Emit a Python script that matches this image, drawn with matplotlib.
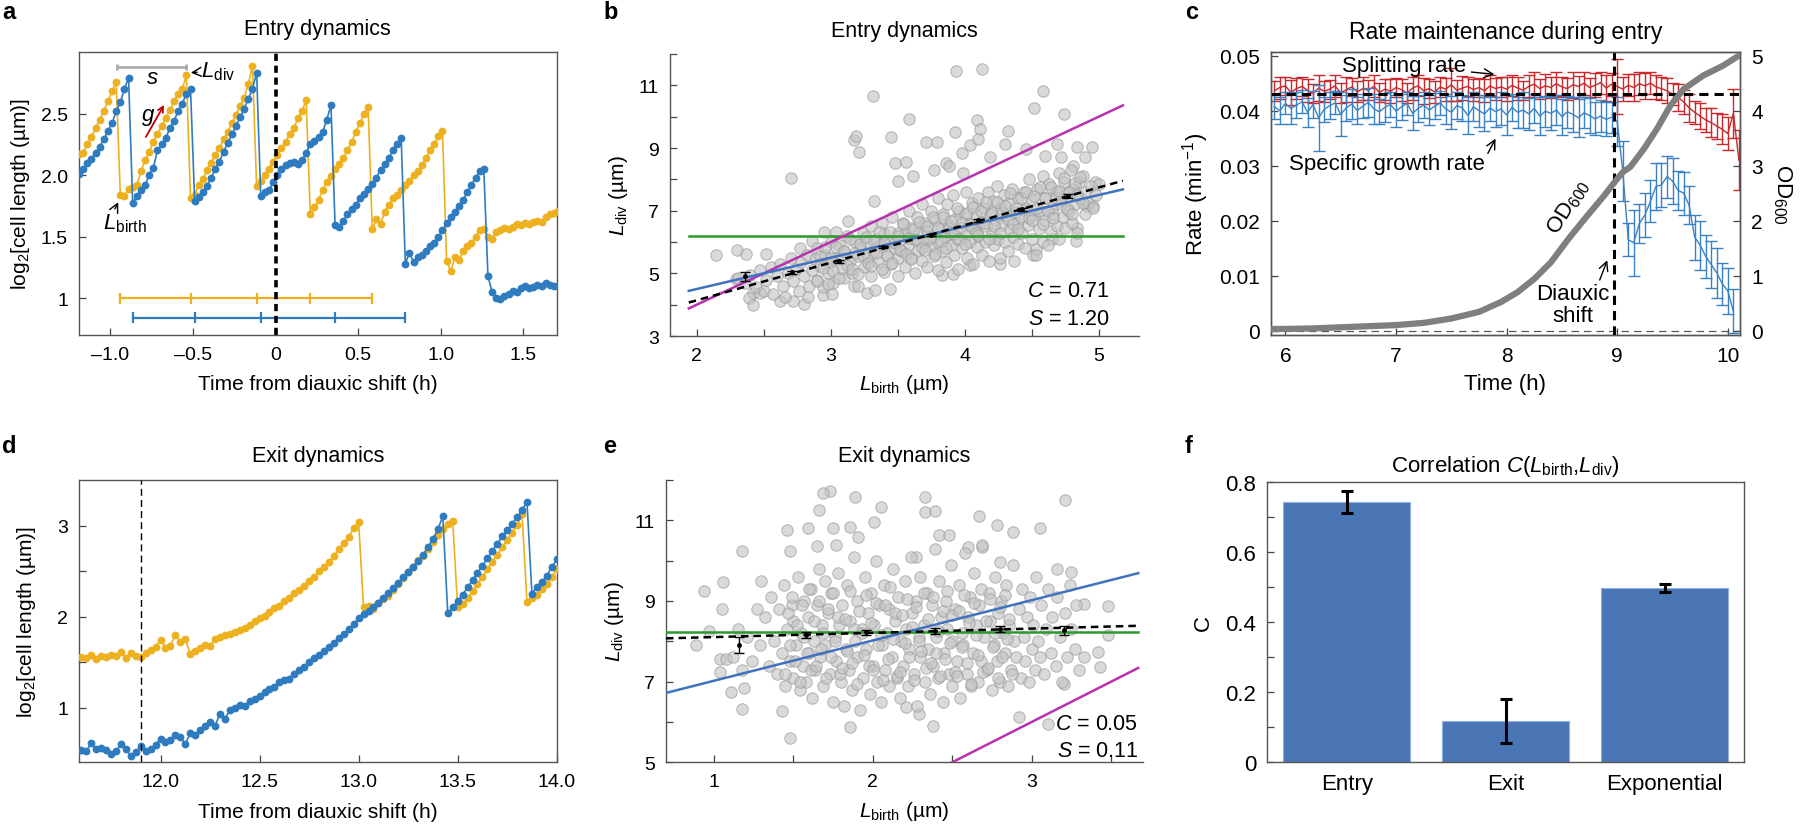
import numpy as np
import matplotlib
matplotlib.use("Agg")
import matplotlib.pyplot as plt

plt.rcParams["font.family"] = ["Liberation Sans", "DejaVu Sans"]
plt.rcParams["mathtext.fontset"] = "custom"
plt.rcParams["mathtext.rm"] = "Liberation Sans"
plt.rcParams["mathtext.it"] = "Liberation Sans:italic"
plt.rcParams["mathtext.bf"] = "Liberation Sans:bold"

NARROW = ["Liberation Sans Narrow", "Liberation Sans", "DejaVu Sans"]
W, H = 1800, 837

YELLOW = "#edb120"
BLUE = "#2e7bc0"
RED = "#c9282d"
CBLUE = "#3a82c6"
MAGENTA = "#b832b0"
GREEN = "#2a9a2a"
LBLUE = "#3f73c0"
BAR = "#4a76b6"

# ---- panel a: entry traces (log2 length), sampled every 0.025 h from -1.19 h
entry_t0, entry_dt = -1.19, 0.025
entry_yellow = [
    2.17, 2.18, 2.25, 2.31, 2.38, 2.45, 2.52, 2.60, 2.68, 2.76,
    1.84, 1.83, 1.89, 1.90, 1.92, 2.03, 2.12, 2.19, 2.27, 2.33,
    2.40, 2.46, 2.53, 2.60, 2.66, 2.70, 2.81, 1.81, 1.84, 1.92,
    1.97, 2.04, 2.10, 2.16, 2.22, 2.29, 2.35, 2.42, 2.49, 2.56,
    2.63, 2.74, 2.89, 1.91, 1.95, 2.00, 2.05, 2.11, 2.16, 2.22,
    2.27, 2.33, 2.38, 2.46, 2.52, 2.61, 1.68, 1.74, 1.80, 1.88,
    1.94, 1.99, 2.05, 2.09, 2.14, 2.20, 2.27, 2.35, 2.42, 2.50,
    2.55, 1.56, 1.64, 1.60, 1.70, 1.76, 1.81, 1.84, 1.88, 1.92,
    1.95, 2.00, 2.03, 2.08, 2.14, 2.20, 2.25, 2.32, 2.36, 1.30,
    1.22, 1.33, 1.31, 1.38, 1.42, 1.45, 1.50, 1.55, 1.56, 1.50,
    1.48, 1.54, 1.55, 1.57, 1.56, 1.58, 1.60, 1.59, 1.61, 1.60,
    1.62, 1.63, 1.62, 1.66, 1.68, 1.69, 1.71]
entry_blue = [
    2.01, 2.05, 2.10, 2.13, 2.18, 2.23, 2.29, 2.36, 2.42, 2.52,
    2.59, 2.70, 2.79, 1.77, 1.83, 1.88, 1.92, 2.00, 2.06, 2.20,
    2.25, 2.30, 2.38, 2.44, 2.52, 2.58, 2.66, 2.70, 1.79, 1.82,
    1.86, 1.91, 1.98, 2.05, 2.11, 2.19, 2.26, 2.33, 2.40, 2.47,
    2.54, 2.62, 2.70, 2.83, 1.83, 1.86, 1.88, 1.94, 2.00, 2.05,
    2.08, 2.10, 2.11, 2.09, 2.12, 2.18, 2.25, 2.28, 2.31, 2.35,
    2.45, 2.57, 1.59, 1.58, 1.63, 1.68, 1.72, 1.76, 1.81, 1.85,
    1.89, 1.93, 1.98, 2.04, 2.09, 2.14, 2.20, 2.25, 2.30, 1.28,
    1.37, 1.29, 1.33, 1.35, 1.38, 1.42, 1.45, 1.50, 1.55, 1.61,
    1.66, 1.70, 1.75, 1.80, 1.86, 1.92, 1.98, 2.03, 2.05, 1.18,
    1.05, 1.00, 0.99, 1.02, 1.03, 1.06, 1.05, 1.08, 1.10, 1.08,
    1.09, 1.11, 1.10, 1.12, 1.11, 1.10, 1.10]

# ---- panel d: exit traces, sampled every 0.025 h from 11.6 h
exit_t0, exit_dt = 11.6, 0.025
exit_yellow = [
    1.56, 1.55, 1.58, 1.53, 1.57, 1.56, 1.58, 1.57, 1.61, 1.54,
    1.60, 1.57, 1.56, 1.60, 1.63, 1.67, 1.74, 1.66, 1.68, 1.80,
    1.72, 1.75, 1.59, 1.62, 1.66, 1.69, 1.68, 1.75, 1.78, 1.80,
    1.81, 1.83, 1.85, 1.87, 1.91, 1.95, 1.98, 2.01, 2.05, 2.09,
    2.12, 2.17, 2.20, 2.26, 2.29, 2.34, 2.39, 2.44, 2.50, 2.55,
    2.60, 2.67, 2.74, 2.81, 2.87, 2.97, 3.04, 2.10, 2.12, 2.08,
    2.15, 2.19, 2.23, 2.29, 2.36, 2.42, 2.49, 2.55, 2.62, 2.67,
    2.74, 2.82, 2.90, 2.96, 3.02, 3.05, 2.10, 2.14, 2.20, 2.28,
    2.36, 2.44, 2.52, 2.60, 2.68, 2.76, 2.84, 2.92, 3.01, 3.13,
    2.16, 2.20, 2.24, 2.30, 2.36, 2.44, 2.52]
exit_blue = [
    0.54, 0.52, 0.61, 0.55, 0.56, 0.53, 0.49, 0.52, 0.60, 0.55,
    0.47, 0.51, 0.58, 0.52, 0.55, 0.59, 0.66, 0.62, 0.64, 0.70,
    0.68, 0.60, 0.72, 0.70, 0.75, 0.80, 0.84, 0.80, 0.93, 0.88,
    0.97, 1.00, 1.03, 1.02, 1.07, 1.10, 1.13, 1.17, 1.21, 1.23,
    1.28, 1.30, 1.32, 1.37, 1.41, 1.45, 1.50, 1.54, 1.58, 1.62,
    1.67, 1.71, 1.76, 1.81, 1.86, 1.92, 1.98, 2.03, 2.06, 2.11,
    2.15, 2.20, 2.26, 2.31, 2.37, 2.43, 2.49, 2.55, 2.61, 2.68,
    2.76, 2.85, 2.96, 3.10, 2.04, 2.10, 2.17, 2.24, 2.32, 2.40,
    2.48, 2.56, 2.64, 2.72, 2.80, 2.88, 2.95, 3.02, 3.09, 3.17,
    3.26, 2.25, 2.33, 2.38, 2.45, 2.54, 2.63]

# ---- panel b: entry L_birth vs L_div
entry_lbirth = [
    3.935, 4.127, 3.313, 4.582, 4.52, 4.744, 3.58, 4.09, 4.115, 3.925, 4.32, 3.45, 3.17, 3.19, 3.21,
    3.71, 3.79, 4.04, 4.10, 4.30, 4.46, 4.69, 4.84, 4.95, 3.98, 4.19, 3.48, 3.56, 3.86, 3.88, 3.77,
    3.61, 3.50, 3.99, 4.60, 4.72, 4.90, 4.81, 2.70, 2.14, 2.30, 2.37, 3.32, 3.13, 2.95, 3.04, 2.86,
    2.77, 2.52, 2.42, 2.39, 2.42, 2.62, 2.72, 2.80, 2.83, 2.94, 3.01, 2.29, 2.47, 3.27, 3.33, 3.44,
    3.17, 3.83, 3.91, 4.04, 4.26, 4.51, 4.53, 4.65, 4.83, 4.84, 4.91, 4.96, 4.97,
    2.31, 2.36, 2.40, 2.44, 2.47, 2.50, 2.52, 2.55, 2.57, 2.60,
    2.62, 2.64, 2.66, 2.68, 2.70, 2.72, 2.74, 2.76, 2.78, 2.80, 2.82, 2.84, 2.86, 2.88, 2.90, 2.90,
    2.92, 2.94, 2.96, 2.98, 3.00, 3.00, 3.02, 3.04, 3.06, 3.08, 3.10, 3.10, 3.12, 3.14, 3.16, 3.18, 3.20, 3.20,
    3.22, 3.24, 3.25, 3.27, 3.28, 3.30, 3.30, 3.32, 3.34, 3.35, 3.37, 3.38, 3.40, 3.40, 3.42, 3.44, 3.45,
    3.46, 3.48, 3.50, 3.50, 3.50,
    3.52, 3.53, 3.54, 3.55, 3.56, 3.58, 3.58, 3.60, 3.60, 3.62, 3.63, 3.64, 3.65, 3.66, 3.68, 3.68,
    3.70, 3.70, 3.72, 3.72, 3.74, 3.75, 3.76, 3.77, 3.78, 3.80, 3.80, 3.80,
    3.82, 3.83, 3.84, 3.85, 3.86, 3.87, 3.88, 3.90, 3.90, 3.91, 3.92, 3.93, 3.94, 3.95, 3.96, 3.97,
    3.98, 4.00, 4.00, 4.01, 4.02, 4.03, 4.04, 4.05, 4.06, 4.07, 4.08, 4.09, 4.10, 4.10,
    4.12, 4.13, 4.14, 4.15, 4.16, 4.17, 4.18, 4.19, 4.20, 4.21, 4.22, 4.23, 4.24, 4.25, 4.26, 4.27,
    4.28, 4.29, 4.30, 4.31, 4.32, 4.33, 4.34, 4.35, 4.36, 4.37, 4.38, 4.39, 4.40, 4.40,
    4.42, 4.43, 4.44, 4.45, 4.46, 4.47, 4.48, 4.50, 4.50, 4.52, 4.53, 4.54, 4.55, 4.56, 4.58, 4.58,
    4.60, 4.60, 4.62, 4.63, 4.64, 4.65, 4.66, 4.68, 4.69, 4.70, 4.70,
    4.72, 4.73, 4.74, 4.75, 4.76, 4.78, 4.79, 4.80, 4.81, 4.82, 4.84, 4.85, 4.86, 4.88, 4.90, 4.90,
    4.92, 4.94, 4.96, 4.98, 5.00]
entry_ldiv = [
    11.45, 11.53, 10.66, 10.81, 10.27, 10.08, 9.91, 9.90, 9.60, 9.52, 9.55, 9.34, 9.26, 9.39, 8.86,
    9.18, 9.18, 9.10, 9.30, 9.12, 8.96, 9.12, 9.02, 9.04, 8.84, 8.70, 8.52, 8.54, 8.52, 8.43, 8.30,
    8.11, 7.95, 8.20, 8.75, 8.70, 8.70, 8.43, 8.04, 5.59, 5.75, 5.63, 7.32, 6.66, 6.33, 6.33, 6.02,
    5.82, 5.61, 4.36, 4.20, 3.99, 4.12, 4.12, 4.03, 4.25, 4.32, 4.33, 4.81, 4.36, 4.38, 4.48, 4.51,
    4.58, 4.94, 4.97, 5.27, 5.31, 5.58, 5.79, 6.11, 6.04, 6.46, 7.15, 7.15, 7.90,
    4.85, 4.70, 4.95, 4.55, 5.10, 4.45, 4.80, 5.20, 4.35, 4.90,
    5.30, 4.60, 4.25, 5.00, 5.50, 4.75, 5.15, 4.45, 5.35, 4.90, 5.60, 4.60, 5.10, 5.45, 4.80, 5.80,
    5.25, 4.55, 5.60, 5.00, 5.35, 6.00, 4.70, 5.50, 5.90, 5.15, 4.85, 5.70, 6.20, 5.40, 5.00, 6.00, 5.55, 4.60,
    5.80, 6.30, 5.20, 6.00, 5.50, 4.90, 6.50, 5.70, 6.10, 5.35, 5.90, 6.60, 5.05, 6.25, 5.60, 6.00, 5.30,
    6.80, 5.80, 6.30, 5.50, 4.90,
    6.05, 5.70, 6.60, 5.20, 6.30, 5.90, 7.00, 5.50, 6.45, 6.10, 5.00, 6.80, 5.75, 6.30, 5.40, 7.20,
    6.00, 6.60, 5.20, 6.35, 5.85, 7.00, 6.15, 5.55, 6.70, 6.00, 5.10, 7.40,
    6.40, 5.70, 6.90, 6.15, 5.35, 7.20, 6.55, 5.90, 6.30, 7.50, 5.60, 6.75, 6.10, 5.15, 7.00, 6.45,
    5.80, 6.90, 6.20, 7.60, 5.50, 6.60, 6.00, 7.25, 5.30, 6.40, 6.85, 5.85, 7.40, 6.20,
    6.65, 5.60, 7.10, 6.00, 6.50, 7.60, 5.40, 6.90, 6.30, 7.30, 5.90, 6.70, 7.80, 6.10, 5.50, 7.05,
    6.55, 7.50, 6.00, 6.85, 5.70, 7.25, 6.40, 7.70, 6.15, 5.40, 6.95, 6.60, 7.40, 5.95,
    6.80, 6.30, 7.60, 5.80, 7.10, 6.55, 8.00, 6.10, 7.35, 6.85, 5.60, 7.70, 6.40, 7.00, 6.00, 8.10,
    7.40, 6.70, 5.90, 7.85, 6.35, 7.10, 6.90, 7.60, 6.50, 8.20, 6.10,
    7.30, 6.80, 7.90, 6.45, 7.55, 7.00, 8.30, 6.60, 7.70, 7.20, 6.30, 7.90, 7.40, 8.10, 6.90, 7.60,
    7.25, 7.80, 7.10, 7.50, 7.85]
# extra points in the dense band of panel b
entry_core_lbirth = [
    2.90, 2.92, 2.94, 2.96, 2.98, 3.00, 3.02, 3.04, 3.06, 3.08,
    3.10, 3.12, 3.14, 3.16, 3.18, 3.20, 3.22, 3.24, 3.26, 3.28,
    3.30, 3.32, 3.34, 3.36, 3.38, 3.40, 3.42, 3.44, 3.46, 3.48,
    3.50, 3.52, 3.54, 3.56, 3.58, 3.60, 3.62, 3.64, 3.66, 3.68,
    3.70, 3.72, 3.74, 3.76, 3.78, 3.80, 3.82, 3.84, 3.86, 3.88,
    3.90, 3.92, 3.94, 3.96, 3.98, 4.00, 4.02, 4.04, 4.06, 4.08,
    4.10, 4.12, 4.14, 4.16, 4.18, 4.20, 4.22, 4.24, 4.26, 4.28,
    4.30, 4.32, 4.34, 4.36, 4.38, 4.40, 4.42, 4.44, 4.46, 4.48,
    4.50, 4.52, 4.54, 4.56, 4.58, 4.60, 4.62, 4.64, 4.66, 4.68,
    4.70, 4.72, 4.74, 4.76, 4.78, 4.80, 4.82, 4.84, 4.86, 4.88]
entry_core_ldiv = [
    4.77, 5.54, 5.17, 5.84, 4.67, 5.49, 5.06, 5.84, 4.86, 5.49,
    5.71, 5.28, 6.11, 5.13, 5.66, 4.98, 5.95, 5.58, 6.15, 5.33,
    5.25, 6.02, 5.65, 6.32, 5.15, 5.97, 5.54, 6.32, 5.34, 5.97,
    6.19, 5.76, 6.59, 5.61, 6.14, 5.46, 6.43, 6.06, 6.63, 5.81,
    5.73, 6.50, 6.13, 6.80, 5.63, 6.45, 6.02, 6.80, 5.82, 6.45,
    6.67, 6.24, 7.07, 6.09, 6.62, 5.94, 6.91, 6.54, 7.11, 6.29,
    6.21, 6.98, 6.61, 7.28, 6.11, 6.93, 6.50, 7.28, 6.30, 6.93,
    7.15, 6.72, 7.55, 6.57, 7.10, 6.42, 7.39, 7.02, 7.59, 6.77,
    6.69, 7.46, 7.09, 7.76, 6.59, 7.41, 6.98, 7.76, 6.78, 7.41,
    7.63, 7.20, 8.03, 7.05, 7.58, 6.90, 7.87, 7.50, 8.07, 7.25]
entry_bin_x = [2.36, 2.71, 3.06, 3.39, 3.75, 4.10, 4.43, 4.77]
entry_bin_y = [4.90, 5.03, 5.38, 5.84, 6.22, 6.70, 7.05, 7.47]
entry_bin_err = [0.15, 0.05, 0.05, 0.04, 0.04, 0.05, 0.05, 0.07]

# ---- panel e: exit L_birth vs L_div
exit_lbirth = [
    1.73, 1.69, 1.89, 2.33, 3.21, 2.05, 2.33, 2.39, 1.66, 2.67, 1.46, 1.59, 1.75, 1.86, 2.01, 2.78,
    3.05, 2.88, 1.18, 1.48, 1.65, 1.77, 1.91, 2.42, 2.48, 2.60, 2.69, 2.27, 2.80, 0.94, 1.06, 1.30,
    1.05, 0.97, 0.89, 1.04, 1.08, 1.04, 1.11, 1.19, 1.18, 1.43, 1.48, 1.86, 2.21, 2.29, 2.38, 2.92,
    3.10, 3.20, 3.43, 3.42, 3.33, 3.48, 3.48, 3.33, 3.25, 3.16,
    1.12, 1.15, 1.18, 1.21, 1.24, 1.27, 1.29,
    1.32, 1.35, 1.36, 1.38, 1.40, 1.41, 1.43, 1.44, 1.45, 1.46, 1.48, 1.49, 1.50, 1.50,
    1.52, 1.53, 1.54, 1.55, 1.56, 1.57, 1.58, 1.59, 1.60, 1.61, 1.62, 1.63, 1.64, 1.65, 1.66, 1.67,
    1.68, 1.69, 1.70, 1.70,
    1.72, 1.73, 1.74, 1.75, 1.76, 1.77, 1.78, 1.79, 1.80, 1.81, 1.82, 1.83, 1.84, 1.85, 1.86, 1.87,
    1.88, 1.89, 1.90, 1.90,
    1.92, 1.93, 1.94, 1.95, 1.96, 1.97, 1.98, 1.99, 2.00, 2.01, 2.02, 2.03, 2.04, 2.05, 2.06, 2.07,
    2.08, 2.09, 2.10, 2.10,
    2.12, 2.13, 2.14, 2.15, 2.16, 2.17, 2.18, 2.19, 2.20, 2.21, 2.22, 2.23, 2.24, 2.25, 2.26, 2.27,
    2.28, 2.29, 2.30, 2.30,
    2.32, 2.33, 2.34, 2.35, 2.36, 2.37, 2.38, 2.39, 2.40, 2.41, 2.42, 2.43, 2.44, 2.45, 2.46, 2.47,
    2.48, 2.49, 2.50, 2.50,
    2.52, 2.53, 2.54, 2.55, 2.56, 2.57, 2.58, 2.59, 2.60, 2.61, 2.62, 2.63, 2.64, 2.65, 2.66, 2.67,
    2.68, 2.69, 2.70,
    2.72, 2.73, 2.74, 2.75, 2.76, 2.77, 2.78, 2.79, 2.80, 2.81, 2.82, 2.83, 2.84, 2.85, 2.86, 2.87,
    2.88, 2.89, 2.90,
    2.92, 2.93, 2.94, 2.95, 2.96, 2.97, 2.98, 2.99, 3.00, 3.01, 3.02, 3.03, 3.04, 3.05, 3.06, 3.08,
    3.09, 3.10,
    3.12, 3.13, 3.15, 3.16, 3.18, 3.19, 3.21, 3.22, 3.24, 3.25, 3.27, 3.28, 3.30]
exit_ldiv = [
    11.72, 11.67, 11.58, 11.58, 11.50, 11.32, 11.21, 11.24, 11.25, 11.10, 10.77, 10.82, 10.82, 10.84,
    10.96, 10.88, 10.82, 10.70, 10.23, 10.24, 10.36, 10.40, 10.59, 10.63, 10.63, 10.34, 10.34, 10.09,
    9.97, 9.26, 9.47, 9.50, 8.81, 8.25, 7.92, 7.57, 7.57, 7.24, 6.74, 6.84, 6.33, 6.27, 5.60, 5.87,
    6.37, 6.20, 5.91, 6.13, 5.95, 6.95, 7.36, 7.73, 7.61, 8.15, 8.87, 8.93, 9.72, 9.80,
    7.60, 8.30, 7.30, 8.10, 7.50, 8.80, 7.90,
    8.60, 7.40, 9.10, 8.00, 7.20, 8.80, 7.70, 9.40, 6.90, 8.30, 7.50, 8.90, 7.10, 8.50,
    7.90, 9.60, 6.80, 8.20, 7.40, 9.00, 7.00, 8.60, 7.70, 9.30, 6.60, 8.00, 7.30, 8.90, 9.80, 7.60,
    8.40, 6.90, 9.50, 7.90,
    8.70, 7.20, 9.20, 6.50, 8.10, 7.50, 9.70, 8.40, 7.00, 8.90, 6.40, 7.80, 9.40, 7.30, 8.50, 6.80,
    10.10, 8.00, 7.60, 9.00,
    6.30, 8.30, 7.10, 9.60, 7.80, 8.70, 6.70, 9.20, 7.40, 8.40, 10.00, 7.00, 8.90, 6.50, 7.90, 9.40,
    7.30, 8.20, 6.90, 8.80,
    7.60, 9.80, 8.50, 7.10, 9.10, 6.60, 8.00, 7.40, 9.50, 8.30, 6.90, 7.80, 10.10, 8.70, 7.20, 9.00,
    6.40, 8.10, 7.60, 9.60,
    8.40, 7.00, 9.20, 7.80, 6.70, 8.90, 7.40, 10.30, 8.10, 7.10, 9.50, 8.60, 6.50, 7.70, 9.00, 8.30,
    7.20, 9.90, 8.00, 6.90,
    8.80, 7.50, 9.40, 6.60, 8.20, 7.90, 10.20, 7.20, 8.60, 9.10, 6.90, 7.70, 9.70, 8.40, 7.00, 8.90,
    7.50, 10.40, 8.10,
    7.30, 9.20, 8.50, 6.80, 7.90, 9.60, 7.50, 8.70, 7.00, 9.00, 8.20, 7.70, 9.40, 6.90, 8.40, 7.30,
    9.90, 8.00, 7.60,
    8.80, 7.10, 9.30, 8.10, 7.50, 8.60, 7.00, 9.10, 7.80, 8.40, 7.30, 9.60, 8.00, 7.60, 8.90, 7.20,
    8.30, 9.30,
    7.70, 8.60, 7.40, 9.10, 8.10, 7.00, 8.70, 7.60, 9.40, 8.30, 7.80, 8.90, 7.30]
# extra points in the dense centre of panel e
exit_core_lbirth = [
    1.450, 1.465, 1.480, 1.495, 1.510, 1.525, 1.540, 1.555, 1.570, 1.585, 1.600, 1.615,
    1.630, 1.645, 1.660, 1.675, 1.690, 1.705, 1.720, 1.735, 1.750, 1.765, 1.780, 1.795,
    1.810, 1.825, 1.840, 1.855, 1.870, 1.885, 1.900, 1.915, 1.930, 1.945, 1.960, 1.975,
    1.990, 2.005, 2.020, 2.035, 2.050, 2.065, 2.080, 2.095, 2.110, 2.125, 2.140, 2.155,
    2.170, 2.185, 2.200, 2.215, 2.230, 2.245, 2.260, 2.275, 2.290, 2.305, 2.320, 2.335,
    2.350, 2.365, 2.380, 2.395, 2.410, 2.425, 2.440, 2.455, 2.470, 2.485, 2.500, 2.515,
    2.530, 2.545, 2.560, 2.575, 2.590, 2.605, 2.620, 2.635, 2.650, 2.665, 2.680, 2.695,
    2.710, 2.725, 2.740, 2.755, 2.770, 2.785, 2.800, 2.815, 2.830, 2.845, 2.860, 2.875]
exit_core_ldiv = [
    7.20, 8.70, 7.90, 9.10, 7.50, 8.40, 7.00, 8.90, 8.10, 7.70, 9.30, 7.30,
    8.50, 7.40, 9.00, 7.80, 8.20, 7.10, 8.80, 7.60, 9.20, 8.00, 8.60, 7.20,
    7.35, 8.55, 7.75, 9.25, 7.45, 8.30, 6.95, 8.75, 8.20, 7.65, 9.15, 7.40,
    8.45, 7.30, 8.95, 7.90, 8.15, 7.05, 8.90, 7.55, 9.35, 8.05, 8.70, 7.15,
    7.25, 8.65, 7.95, 9.05, 7.60, 8.35, 7.05, 8.85, 8.00, 7.75, 9.20, 7.35,
    8.55, 7.45, 9.10, 7.70, 8.25, 7.15, 8.75, 7.55, 9.25, 7.95, 8.65, 7.25,
    7.15, 8.75, 7.85, 9.15, 7.45, 8.45, 6.95, 8.95, 8.15, 7.65, 9.30, 7.25,
    8.50, 7.35, 9.05, 7.85, 8.20, 7.10, 8.85, 7.60, 9.15, 8.05, 8.55, 7.20]
exit_bin_x = [1.16, 1.58, 1.96, 2.39, 2.80, 3.20]
exit_bin_y = [7.90, 8.15, 8.22, 8.25, 8.30, 8.27]
exit_bin_err = [0.20, 0.07, 0.06, 0.07, 0.08, 0.12]

# model lines: (slope, intercept) for L_div = slope * L_birth + intercept
entry_lines = {"sizer": (0.0, 6.2), "timer": (2.0, 0.0), "adder": (1.0, 2.5), "fit": (1.2, 1.74)}
exit_lines = {"sizer": (0.0, 8.22), "timer": (2.0, 0.0), "adder": (1.0, 6.02), "fit": (0.105, 8.0)}

# ---- panel c: rates during entry, every 0.05 h from 5.9 h
rate_t0, rate_dt = 5.9, 0.05
split_rate = [
    0.0436, 0.0442, 0.0445, 0.0433, 0.0440, 0.0444, 0.0437, 0.0431, 0.0441, 0.0435,
    0.0439, 0.0445, 0.0432, 0.0438, 0.0443, 0.0434, 0.0440, 0.0437, 0.0444, 0.0433,
    0.0439, 0.0435, 0.0442, 0.0438, 0.0432, 0.0441, 0.0445, 0.0436, 0.0440, 0.0434,
    0.0443, 0.0439, 0.0447, 0.0437, 0.0441, 0.0444, 0.0438, 0.0442, 0.0436, 0.0445,
    0.0440, 0.0443, 0.0439, 0.0446, 0.0441, 0.0437, 0.0444, 0.0448, 0.0440, 0.0445,
    0.0442, 0.0449, 0.0443, 0.0440, 0.0447, 0.0444, 0.0450, 0.0442, 0.0446, 0.0451,
    0.0441, 0.0448, 0.0444, 0.0439, 0.0446, 0.0442, 0.0449, 0.0445, 0.0450, 0.0443,
    0.0440, 0.0436, 0.0430, 0.0424, 0.0416, 0.0405, 0.0397, 0.0390, 0.0383, 0.0378,
    0.0372, 0.0366, 0.0358, 0.0395, 0.0310]
split_err = [
    0.0018, 0.0020, 0.0016, 0.0022, 0.0019, 0.0017, 0.0021, 0.0018, 0.0024, 0.0019,
    0.0017, 0.0020, 0.0018, 0.0023, 0.0016, 0.0019, 0.0021, 0.0018, 0.0020, 0.0017,
    0.0019, 0.0022, 0.0017, 0.0020, 0.0018, 0.0021, 0.0019, 0.0024, 0.0017, 0.0020,
    0.0018, 0.0021, 0.0030, 0.0019, 0.0022, 0.0018, 0.0020, 0.0017, 0.0021, 0.0019,
    0.0020, 0.0018, 0.0022, 0.0019, 0.0021, 0.0017, 0.0020, 0.0023, 0.0018, 0.0021,
    0.0019, 0.0022, 0.0018, 0.0020, 0.0024, 0.0019, 0.0021, 0.0018, 0.0022, 0.0020,
    0.0023, 0.0021, 0.0050, 0.0022, 0.0020, 0.0024, 0.0021, 0.0023, 0.0020, 0.0022,
    0.0021, 0.0023, 0.0020, 0.0024, 0.0022, 0.0025, 0.0021, 0.0024, 0.0022, 0.0026,
    0.0024, 0.0027, 0.0030, 0.0045, 0.0055]
growth_rate = [
    0.0407, 0.0400, 0.0413, 0.0404, 0.0410, 0.0416, 0.0397, 0.0411, 0.0387, 0.0402,
    0.0409, 0.0414, 0.0393, 0.0405, 0.0412, 0.0400, 0.0408, 0.0415, 0.0403, 0.0398,
    0.0406, 0.0411, 0.0399, 0.0407, 0.0413, 0.0395, 0.0404, 0.0410, 0.0401, 0.0408,
    0.0414, 0.0403, 0.0397, 0.0409, 0.0405, 0.0391, 0.0407, 0.0400, 0.0394, 0.0405,
    0.0398, 0.0403, 0.0392, 0.0406, 0.0397, 0.0401, 0.0394, 0.0404, 0.0390, 0.0399,
    0.0395, 0.0401, 0.0389, 0.0398, 0.0393, 0.0387, 0.0396, 0.0391, 0.0385, 0.0390,
    0.0384, 0.0388, 0.0380, 0.0290, 0.0165, 0.0160, 0.0195, 0.0210, 0.0235, 0.0262,
    0.0265, 0.0280, 0.0272, 0.0255, 0.0250, 0.0228, 0.0170, 0.0155, 0.0135, 0.0120,
    0.0105, 0.0085, 0.0072, 0.0035]
growth_err = [
    0.0022, 0.0025, 0.0020, 0.0028, 0.0023, 0.0021, 0.0026, 0.0024, 0.0060, 0.0022,
    0.0025, 0.0021, 0.0040, 0.0023, 0.0027, 0.0024, 0.0022, 0.0026, 0.0028, 0.0023,
    0.0026, 0.0022, 0.0029, 0.0024, 0.0021, 0.0031, 0.0025, 0.0023, 0.0027, 0.0024,
    0.0022, 0.0028, 0.0030, 0.0025, 0.0023, 0.0033, 0.0026, 0.0029, 0.0031, 0.0024,
    0.0027, 0.0030, 0.0036, 0.0025, 0.0028, 0.0032, 0.0029, 0.0026, 0.0034, 0.0028,
    0.0030, 0.0027, 0.0033, 0.0029, 0.0031, 0.0035, 0.0028, 0.0032, 0.0030, 0.0029,
    0.0031, 0.0028, 0.0045, 0.0055, 0.0030, 0.0060, 0.0035, 0.0040, 0.0038, 0.0042,
    0.0040, 0.0038, 0.0042, 0.0036, 0.0039, 0.0035, 0.0041, 0.0044, 0.0039, 0.0043,
    0.0045, 0.0038, 0.0042, 0.0040]
od_time = [5.88, 6.0, 6.25, 6.5, 6.75, 7.0, 7.25, 7.5, 7.75, 7.95, 8.1, 8.25, 8.4, 8.56, 8.73,
           8.88, 9.0, 9.05, 9.12, 9.24, 9.36, 9.48, 9.6, 9.78, 9.96, 10.1]
od_600 = [0.03, 0.03, 0.04, 0.06, 0.08, 0.10, 0.14, 0.22, 0.34, 0.52, 0.70, 0.94, 1.24, 1.67, 2.09,
          2.45, 2.76, 2.88, 2.98, 3.30, 3.67, 4.09, 4.39, 4.64, 4.82, 5.0]
rate_ref = 0.043
shift_time = 8.97

# ---- panel f
corr_labels = ["Entry", "Exit", "Exponential"]
corr_values = [0.743, 0.119, 0.497]
corr_errors = [0.031, 0.063, 0.012]


def box(left, top, right, bottom):
    return [left / W, 1 - bottom / H, (right - left) / W, (bottom - top) / H]


def style(ax, spines=("left", "bottom", "top", "right")):
    for s in ax.spines:
        ax.spines[s].set_visible(s in spines)
        ax.spines[s].set_color("#555555")
        ax.spines[s].set_linewidth(1.0)
    ax.tick_params(which="both", direction="in", labelsize=14, pad=8,
                   color="#444444", length=5, width=0.9)


fig = plt.figure(figsize=(W / 100, H / 100), dpi=100)

# ================= a
ax = fig.add_axes(box(79, 53, 556.5, 336))
style(ax)
t_a = entry_t0 + entry_dt * np.arange(len(entry_yellow))
ax.plot(t_a, entry_yellow, "-o", color=YELLOW, lw=1.2, ms=4.6, zorder=3)
ax.plot(t_a, entry_blue, "-o", color=BLUE, lw=1.2, ms=4.6, zorder=3)
ax.axvline(0, color="k", lw=2.6, ls=(0, (2.0, 1.3)), zorder=4)
for vals, level, col in ((entry_yellow, 1.0, YELLOW), (entry_blue, 0.84, BLUE)):
    births = t_a[1:][np.diff(vals) < -0.4][:5]
    ax.plot([births[0], births[-1]], [level, level], color=col, lw=1.6)
    ax.vlines(births, level - 0.045, level + 0.045, color=col, lw=1.6)
ax.plot([-0.962, -0.540], [2.875, 2.875], color="#a8a8a8", lw=1.8)
ax.vlines([-0.962, -0.540], 2.85, 2.90, color="#a8a8a8", lw=1.8)
ax.text(-0.745, 2.79, "s", style="italic", fontsize=16, ha="center", va="center")
ax.annotate("$L_{\\rm div}$", xy=(-0.53, 2.83), xytext=(-0.45, 2.85), fontsize=16,
            ha="left", va="center",
            arrowprops=dict(arrowstyle="->", color="k", lw=1.0, shrinkA=1, shrinkB=2))
ax.annotate("", xy=(-0.675, 2.57), xytext=(-0.785, 2.31),
            arrowprops=dict(arrowstyle="->", color="#c00000", lw=1.3, shrinkA=0, shrinkB=0))
ax.text(-0.77, 2.49, "g", style="italic", fontsize=16, ha="center", va="center")
ax.annotate("$L_{\\rm birth}$", xy=(-0.945, 1.80), xytext=(-0.915, 1.61), fontsize=16,
            ha="center", va="center",
            arrowprops=dict(arrowstyle="->", color="k", lw=1.0, shrinkA=0, shrinkB=2,
                            relpos=(0.25, 1.0)))
ax.set_xlim(-1.19, 1.70)
ax.set_ylim(0.70, 3.0)
ax.set_xticks([-1.0, -0.5, 0, 0.5, 1.0, 1.5])
ax.set_xticklabels(["\u20131.0", "\u20130.5", "0", "0.5", "1.0", "1.5"])
ax.set_yticks([1, 1.5, 2.0, 2.5])
ax.set_yticklabels(["1", "1.5", "2.0", "2.5"])
ax.set_xlabel("Time from diauxic shift (h)", fontsize=15, labelpad=8)
ax.set_ylabel("log$_2$[cell length (\u00b5m)]", fontsize=15, labelpad=6)
ax.set_title("Entry dynamics", fontsize=15.5, pad=13)

# ================= d
ax = fig.add_axes(box(79.3, 481, 556.7, 763.3))
style(ax)
t_d = exit_t0 + exit_dt * np.arange(len(exit_yellow))
ax.plot(t_d, exit_yellow, "-o", color=YELLOW, lw=1.2, ms=4.6, zorder=3)
ax.plot(t_d, exit_blue, "-o", color=BLUE, lw=1.2, ms=4.6, zorder=3)
ax.axvline(11.9, color="k", lw=1.0, ls=(0, (5, 3)), zorder=4)
ax.set_xlim(11.59, 14.0)
ax.set_ylim(0.40, 3.5)
ax.set_xticks([12.0, 12.5, 13.0, 13.5, 14.0])
ax.set_xticklabels(["12.0", "12.5", "13.0", "13.5", "14.0"])
ax.set_yticks([1, 2, 3])
ax.set_yticks([0.5, 1.5, 2.5], minor=True)
ax.set_xlabel("Time from diauxic shift (h)", fontsize=15, labelpad=8)
ax.set_ylabel("log$_2$[cell length (\u00b5m)]", fontsize=15, labelpad=14)
ax.set_title("Exit dynamics", fontsize=15.5, pad=14)


def size_panel(ax, lb, ld, lines, xr, bx, by, be, ctext, stext, tpos):
    style(ax, spines=("left", "bottom"))
    ax.scatter(lb, ld, s=68, facecolor="#c4c4c4", edgecolor="#989898", linewidth=0.8,
               alpha=0.62, zorder=1)
    xs = np.array(xr)
    for key, col, lw, ls in (("sizer", GREEN, 1.8, "-"), ("timer", MAGENTA, 1.8, "-"),
                             ("adder", LBLUE, 1.8, "-"), ("fit", "k", 1.8, (0, (3, 2)))):
        m, c = lines[key]
        ax.plot(xs, m * xs + c, color=col, lw=lw, ls=ls, zorder=3)
    ax.errorbar(bx, by, yerr=be, fmt="o", ms=2.5, color="k", ecolor="k", elinewidth=1.0,
                capsize=3.5, capthick=1.0, zorder=4)
    ax.text(tpos[0], tpos[1], ctext, fontsize=15.5, ha="right", va="center")
    ax.text(tpos[0], tpos[2], stext, fontsize=15.5, ha="right", va="center")
    ax.set_ylabel("$L_{\\rm div}$ (\u00b5m)", fontsize=15, labelpad=6)
    ax.set_xlabel("$L_{\\rm birth}$ (\u00b5m)", fontsize=15, labelpad=6)


# ================= b
ax = fig.add_axes(box(670, 55, 1139, 337))
size_panel(ax, entry_lbirth + entry_core_lbirth, entry_ldiv + entry_core_ldiv, entry_lines,
           [1.94, 5.18], entry_bin_x, entry_bin_y, entry_bin_err,
           "$C$ = 0.71", "$S$ = 1.20", (5.08, 4.46, 3.56))
ax.set_xlim(1.8, 5.3)
ax.set_ylim(3, 12)
ax.set_xticks([2, 3, 4, 5])
ax.set_xticks([2.5, 3.5, 4.5], minor=True)
ax.set_yticks([3, 5, 7, 9, 11])
ax.set_yticks([4, 6, 8, 10, 12], minor=True)
ax.set_title("Entry dynamics", fontsize=15.5, pad=13)

# ================= e
ax = fig.add_axes(box(666, 481, 1143, 763.3))
size_panel(ax, exit_lbirth + exit_core_lbirth, exit_ldiv + exit_core_ldiv, exit_lines,
           [0.70, 3.67], exit_bin_x, exit_bin_y, exit_bin_err,
           "$C$ = 0.05", "$S$ = 0.11", (3.67, 5.97, 5.30))
ax.set_xlim(0.70, 3.70)
ax.set_ylim(5, 12)
ax.set_xticks([1, 2, 3])
ax.set_xticks([1.5, 2.5, 3.5], minor=True)
ax.set_yticks([5, 7, 9, 11])
ax.set_yticks([6, 8, 10, 12], minor=True)
ax.set_title("Exit dynamics", fontsize=15.5, pad=14)

# ================= c
ax = fig.add_axes(box(1271, 53.3, 1740, 336))
style(ax)
ax.tick_params(right=False)
t_red = rate_t0 + rate_dt * np.arange(len(split_rate))
t_blue = rate_t0 + rate_dt * np.arange(len(growth_rate))
ax.errorbar(t_red, split_rate, yerr=split_err, color=RED, lw=1.0, elinewidth=1.0,
            capsize=4.0, capthick=1.0, zorder=2)
ax.errorbar(t_blue, growth_rate, yerr=growth_err, color=CBLUE, lw=1.0, elinewidth=1.0,
            capsize=4.0, capthick=1.0, zorder=3)
ax.axhline(rate_ref, color="k", lw=2.2, ls=(0, (3, 2)), zorder=5)
ax.axhline(0, color="#555555", lw=0.9, ls=(0, (6, 4)), zorder=1)
ax.axvline(shift_time, color="k", lw=2.2, ls=(0, (3, 2)), zorder=5)
ax.set_xlim(5.87, 10.11)
ax.set_ylim(-0.0008, 0.0506)
ax.set_xticks([6, 7, 8, 9, 10])
ax.set_yticks([0, 0.01, 0.02, 0.03, 0.04, 0.05])
ax.set_yticklabels(["0", "0.01", "0.02", "0.03", "0.04", "0.05"])
for lab in ax.get_xticklabels() + ax.get_yticklabels():
    lab.set_family(NARROW)
    lab.set_fontsize(15)
ax.set_xlabel("Time (h)", fontsize=16, family=NARROW, labelpad=6)
ax.set_ylabel("Rate (min$^{-1}$)", fontsize=16, family=NARROW, labelpad=6)
ax.set_title("Rate maintenance during entry", fontsize=16.5, family=NARROW, pad=10)
ax.annotate("Splitting rate", xy=(7.89, 0.0466), xytext=(7.07, 0.0482), fontsize=16,
            family=NARROW, ha="center", va="center", zorder=6,
            arrowprops=dict(arrowstyle="->", color="k", lw=1.0, shrinkA=2, shrinkB=0))
ax.annotate("Specific growth rate", xy=(7.90, 0.0349), xytext=(6.92, 0.0303), fontsize=16,
            family=NARROW, ha="center", va="center", zorder=6,
            arrowprops=dict(arrowstyle="->", color="k", lw=1.0, shrinkA=0, shrinkB=0,
                            relpos=(1.0, 0.75)))
ax.annotate("Diauxic\nshift", xy=(8.91, 0.0128), xytext=(8.60, 0.0048), fontsize=16,
            family=NARROW, ha="center", va="center", linespacing=1.05, zorder=6,
            arrowprops=dict(arrowstyle="->", color="k", lw=1.0, shrinkA=0, shrinkB=0,
                            relpos=(0.85, 1.0)))
ax2 = ax.twinx()
style(ax2)
ax2.tick_params(left=False, right=True, labelleft=False, labelright=True)
ax2.plot(od_time, od_600, color="#7f7f7f", lw=4.5, solid_capstyle="round", zorder=4)
ax2.text(8.56, 2.27, "OD$_{600}$", fontsize=16, rotation=58, ha="center", va="center")
ax2.set_ylim(-0.08, 5.06)
ax2.set_yticks([0, 1, 2, 3, 4, 5])
for lab in ax2.get_yticklabels():
    lab.set_family(NARROW)
    lab.set_fontsize(15)
ax2.set_ylabel("OD$_{600}$", fontsize=16, rotation=270, va="bottom", labelpad=6)

# ================= f
ax = fig.add_axes(box(1267.3, 483, 1744, 763.3))
style(ax)
xpos = np.arange(len(corr_labels))
ax.bar(xpos, corr_values, width=0.8, color=BAR, edgecolor="#8fb0de", linewidth=0.8, zorder=2)
ax.errorbar(xpos, corr_values, yerr=corr_errors, fmt="none", ecolor="k", elinewidth=2.2,
            capsize=4.5, capthick=2.2, zorder=3)
ax.set_xlim(-0.5, 2.5)
ax.set_ylim(0, 0.8)
ax.set_xticks(xpos)
ax.set_xticklabels(corr_labels)
ax.set_yticks([0, 0.2, 0.4, 0.6, 0.8])
ax.set_yticklabels(["0", "0.2", "0.4", "0.6", "0.8"])
ax.set_yticks([0.1, 0.3, 0.5, 0.7], minor=True)
for lab in ax.get_xticklabels() + ax.get_yticklabels():
    lab.set_family(NARROW)
    lab.set_fontsize(16)
ax.set_ylabel("C", fontsize=16, family=NARROW, labelpad=8)
ax.set_title("Correlation $C$($L_{\\rm birth}$,$L_{\\rm div}$)", fontsize=16, family=NARROW, pad=8)

# panel letters
for letter, x, y in (("a", 2, 19), ("b", 603, 19), ("c", 1185, 19),
                     ("d", 2, 453), ("e", 603, 453), ("f", 1185, 453)):
    fig.text(x / W, 1 - y / H, letter, fontsize=17, fontweight="bold", va="baseline")

fig.savefig("out.png", dpi=100)
